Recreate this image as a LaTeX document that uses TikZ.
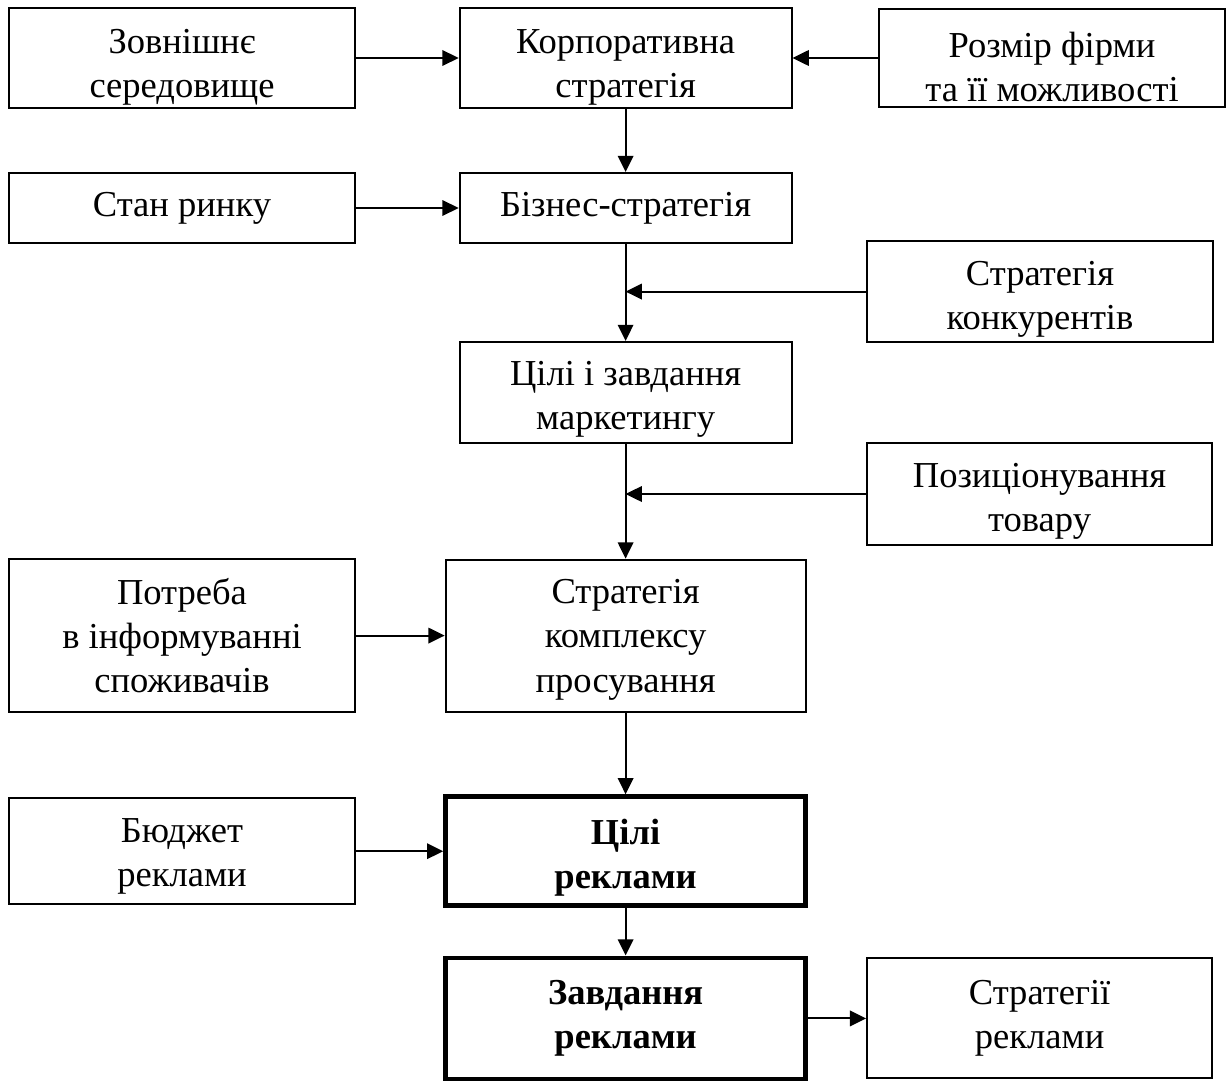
\documentclass[tikz,border=0pt]{standalone}
\usepackage{fontspec}
\setmainfont{Liberation Serif}
\usetikzlibrary{arrows.meta,positioning}

\begin{document}
\begin{tikzpicture}[font=\fontsize{26}{31.5}\selectfont,
  box/.style={draw, line width=1.4pt, align=center, inner sep=2pt},
  keybox/.style={box, line width=3.4pt, font=\fontsize{26}{31.5}\selectfont\bfseries},
  low/.style={text height=#1},
  arr/.style={line width=1.4pt, -{Triangle[length=11.5pt,width=11pt]}}]
  \useasboundingbox (0,0) rectangle (30.8,-27.025);

  \node[box, low=62pt, minimum width=8.65cm, minimum height=2.45cm] (env) at (4.55,-1.45)
    {Зовнішнє\\середовище};
  \node[box, low=62pt, minimum width=8.3cm, minimum height=2.45cm] (corp) at (15.64,-1.45)
    {Корпоративна\\стратегія};
  \node[box, low=62pt, minimum width=8.65cm, minimum height=2.45cm] (firm) at (26.3,-1.45)
    {Розмір фірми\\та її можливості};

  \node[box, minimum width=8.65cm, minimum height=1.75cm] (market) at (4.55,-5.2)
    {Стан ринку};
  \node[box, minimum width=8.3cm, minimum height=1.75cm] (biz) at (15.64,-5.2)
    {Бізнес-стратегія};

  \node[box, low=60pt, minimum width=8.65cm, minimum height=2.525cm] (rivals) at (26.0,-7.29)
    {Стратегія\\конкурентів};
  \node[box, low=59pt, minimum width=8.3cm, minimum height=2.525cm] (mkt) at (15.64,-9.81)
    {Цілі і завдання\\маркетингу};
  \node[box, low=59pt, minimum width=8.625cm, minimum height=2.55cm] (pos) at (25.99,-12.35)
    {Позиціонування\\товару};

  \node[box, minimum width=8.65cm, minimum height=3.825cm] (need) at (4.55,-15.89)
    {Потреба\\в інформуванні\\споживачів};
  \node[box, low=86pt, minimum width=9cm, minimum height=3.8cm] (promo) at (15.64,-15.89)
    {Стратегія\\комплексу\\просування};

  \node[box, low=56pt, minimum width=8.65cm, minimum height=2.65cm] (budget) at (4.55,-21.28)
    {Бюджет\\реклами};
  \node[keybox, low=59pt, minimum width=9cm, minimum height=2.725cm] (goals) at (15.64,-21.28)
    {Цілі\\реклами};

  \node[keybox, minimum width=9cm, minimum height=3.025cm] (tasks) at (15.64,-25.46)
    {Завдання\\реклами};
  \node[box, minimum width=8.625cm, minimum height=3cm] (adstrat) at (25.99,-25.46)
    {Стратегії\\реклами};

  \draw[arr] (env) -- (corp);
  \draw[arr] (firm) -- (corp);
  \draw[arr] (corp) -- (biz);
  \draw[arr] (market) -- (biz);
  \draw[arr] (biz) -- (mkt);
  \draw[arr] (rivals.west) -- (rivals.west -| biz.south);
  \draw[arr] (mkt) -- (promo);
  \draw[arr] (pos.west) -- (pos.west -| mkt.south);
  \draw[arr] (need) -- (promo);
  \draw[arr] (promo) -- (goals);
  \draw[arr] (budget) -- (goals);
  \draw[arr] (goals) -- (tasks);
  \draw[arr] (tasks) -- (adstrat);
\end{tikzpicture}
\end{document}
